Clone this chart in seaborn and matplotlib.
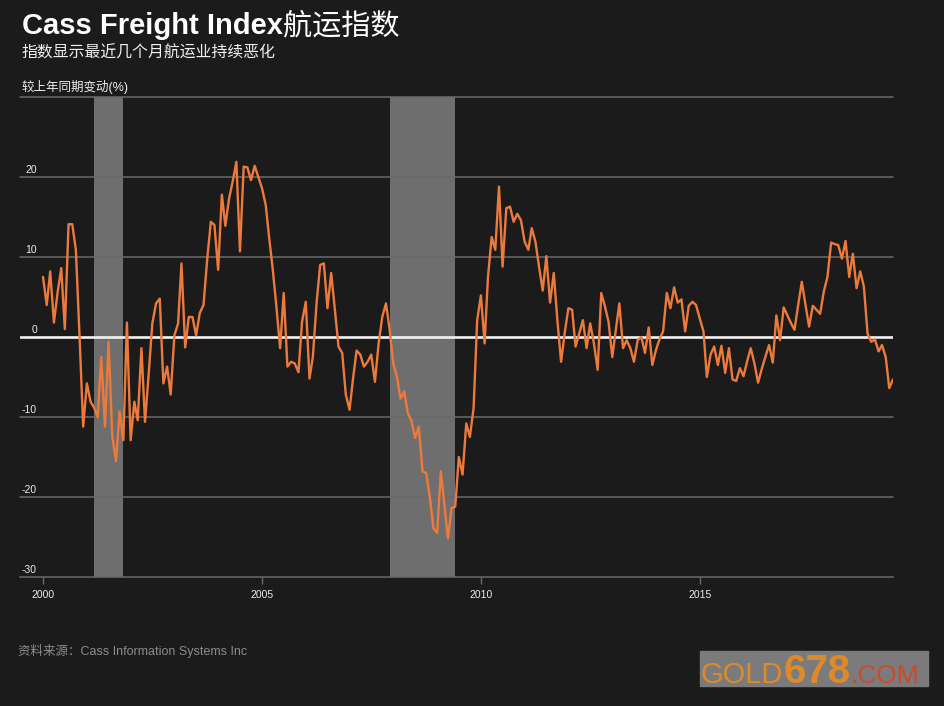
import matplotlib
matplotlib.use("Agg")
import matplotlib.pyplot as plt
from matplotlib.patches import Rectangle
import numpy as np
import pandas as pd
import seaborn as sns

# Cass Freight Index, year-over-year change (%), monthly from Jan 2000
yoy_2000 = [7.5, 4.0, 8.2, 1.8, 5.5, 8.6, 1.0, 14.1, 14.1, 10.9, 0.0, -11.2]
yoy_2001 = [-5.8, -8.1, -8.8, -10.0, -2.5, -11.2, -0.6, -12.5, -15.5, -9.3, -12.9, 1.8]
yoy_2002 = [-12.9, -8.1, -10.4, -1.4, -10.6, -4.5, 1.7, 4.2, 4.8, -5.8, -3.7, -7.2]
yoy_2003 = [0.2, 1.7, 9.2, -1.3, 2.5, 2.5, 0.2, 3.0, 4.0, 9.6, 14.4, 14.0]
yoy_2004 = [8.4, 17.8, 13.9, 17.3, 19.4, 21.9, 10.7, 21.3, 21.2, 19.6, 21.4, 20.0]
yoy_2005 = [18.6, 16.5, 12.5, 8.4, 3.8, -1.4, 5.5, -3.7, -3.1, -3.3, -4.4, 1.9]
yoy_2006 = [4.4, -5.2, -2.5, 4.2, 9.0, 9.2, 3.6, 8.0, 3.4, -1.2, -2.0, -7.2]
yoy_2007 = [-9.1, -5.0, -1.7, -2.2, -3.7, -3.1, -2.2, -5.6, -0.8, 2.5, 4.2, 1.0]
yoy_2008 = [-3.3, -5.0, -7.7, -6.8, -9.5, -10.5, -12.6, -11.2, -16.8, -17.0, -20.0, -23.9]
yoy_2009 = [-24.5, -16.8, -20.8, -25.2, -21.4, -21.2, -15.0, -17.2, -10.8, -12.5, -8.9, 2.1]
yoy_2010 = [5.2, -0.8, 7.5, 12.5, 10.9, 18.8, 8.8, 16.1, 16.3, 14.4, 15.4, 14.6]
yoy_2011 = [11.9, 10.9, 13.6, 11.9, 8.8, 5.8, 10.1, 4.3, 8.0, 2.1, -3.1, 0.5]
yoy_2012 = [3.6, 3.4, -1.2, 0.5, 2.1, -1.4, 1.7, -0.8, -4.1, 5.5, 3.8, 1.9]
yoy_2013 = [-2.5, 1.0, 4.2, -1.4, -0.4, -1.4, -3.1, -0.4, 0.0, -2.0, 1.2, -3.5]
yoy_2014 = [-1.6, -0.2, 0.7, 5.5, 3.6, 6.2, 4.3, 4.7, 0.7, 3.9, 4.4, 4.0]
yoy_2015 = [2.3, 0.7, -5.0, -2.2, -1.2, -3.5, -1.1, -4.5, -1.4, -5.3, -5.5, -3.9]
yoy_2016 = [-4.9, -3.0, -1.4, -3.3, -5.7, -4.0, -2.5, -1.0, -3.2, 2.7, -0.4, 3.7]
yoy_2017 = [2.7, 1.7, 0.9, 4.0, 6.9, 4.0, 1.3, 3.9, 3.4, 2.9, 5.7, 7.5]
yoy_2018 = [11.8, 11.6, 11.5, 9.8, 12.0, 7.5, 10.4, 6.1, 8.2, 6.3, 0.4, -0.6]
yoy_2019 = [-0.3, -1.8, -1.0, -2.5, -6.4, -5.3]

recession_start = ["2001-03-01", "2007-12-01"]
recession_end = ["2001-11-01", "2009-06-01"]

y_levels = [-30, -20, -10, 0, 10, 20, 30]
y_labels = ["-30", "-20", "-10", "0", "10", "20", ""]
year_ticks = [2000, 2005, 2010, 2015]

title_en = "Cass Freight Index"
title_cn = "航运指数"
subtitle = "指数显示最近几个月航运业持续恶化"
unit_label = "较上年同期变动(%)"
source = "资料来源：Cass Information Systems Inc"

yoy = (yoy_2000 + yoy_2001 + yoy_2002 + yoy_2003 + yoy_2004 + yoy_2005 + yoy_2006
       + yoy_2007 + yoy_2008 + yoy_2009 + yoy_2010 + yoy_2011 + yoy_2012 + yoy_2013
       + yoy_2014 + yoy_2015 + yoy_2016 + yoy_2017 + yoy_2018 + yoy_2019)
df = pd.DataFrame({
    "date": pd.date_range("2000-01-01", periods=len(yoy), freq="MS"),
    "yoy": yoy,
})

BG = "#1c1b1c"
ORANGE = "#ec7a3c"
GRID = "#6a6a6a"
BAND = "#6e6e6e"

sns.set_theme(style="dark", rc={
    "figure.facecolor": BG,
    "axes.facecolor": BG,
    "savefig.facecolor": BG,
})
plt.rcParams["font.family"] = ["Liberation Sans", "Noto Sans CJK SC", "DejaVu Sans"]

W, H = 945, 706
fig = plt.figure(figsize=(W / 100, H / 100), dpi=100)
ax = fig.add_axes([20 / W, 1 - 577 / H, 873 / W, 480 / H])

for a, b in zip(recession_start, recession_end):
    ax.axvspan(pd.Timestamp(a), pd.Timestamp(b), color=BAND, lw=0, zorder=0)

for lv in y_levels[1:]:
    if lv == 0:
        ax.axhline(lv, color="#f2f2f2", lw=1.9, zorder=2)
    else:
        ax.axhline(lv, color=GRID, lw=1.1, zorder=1, clip_on=False)

sns.lineplot(data=df, x="date", y="yoy", ax=ax, color=ORANGE, lw=1.7, zorder=4)

ax.set_ylim(-30, 30)
ax.set_xlim(pd.Timestamp("1999-06-23"), df["date"].iloc[-1])
ax.set_xlabel("")
ax.set_ylabel("")
ax.set_yticks([])
ax.set_xticks([pd.Timestamp(f"{y}-01-01") for y in year_ticks])
ax.set_xticklabels([str(y) for y in year_ticks])
ax.tick_params(axis="x", bottom=True, length=5, width=1, color=GRID,
               labelcolor="#ececec", labelsize=7.5, pad=4)
for side in ["top", "left", "right"]:
    ax.spines[side].set_visible(False)
ax.spines["bottom"].set_color(GRID)
ax.spines["bottom"].set_linewidth(1.1)

# y labels sit just above their grid line, inside the plot
for lv, lab in zip(y_levels, y_labels):
    ax.text(0.0195, lv + 0.3, lab, transform=ax.get_yaxis_transform(),
            ha="right", va="bottom", fontsize=7.5, color="#ececec")

# title: bold latin part followed by regular chinese part
t1 = fig.text(22 / W, 1 - 34 / H, title_en, fontsize=21, fontweight="bold",
              color="white", va="baseline")
fig.canvas.draw()
x_end = fig.transFigure.inverted().transform(t1.get_window_extent().p1)[0]
fig.text(x_end, 1 - 34 / H, title_cn, fontsize=21, color="white",
         va="baseline", family=["Noto Sans CJK SC"])

fig.text(21 / W, 1 - 52.5 / H, subtitle, fontsize=11.4, color="#f0f0f0", va="center")
fig.text(22 / W, 1 - 87 / H, unit_label, fontsize=9, color="#f0f0f0", va="center")
fig.text(18 / W, 1 - 651 / H, source, fontsize=9, color="#8c8c8c", va="center")

# watermark box
fig.patches.append(Rectangle((700 / W, 1 - 686 / H), 228 / W, 35 / H,
                             transform=fig.transFigure, color="#7b7b7b", zorder=0))
x_pos = 701 / W
for txt, size, col in [("GOLD", 21, "#de8a2c"), ("678", 29, "#de8a2c"), (".COM", 19, "#cc4a2c")]:
    t = fig.text(x_pos, 1 - 683 / H, txt, fontsize=size, color=col, va="baseline",
                 fontweight="bold" if txt == "678" else "normal")
    fig.canvas.draw()
    x_pos = fig.transFigure.inverted().transform(t.get_window_extent().p1)[0]

fig.savefig("out.png", dpi=100)
